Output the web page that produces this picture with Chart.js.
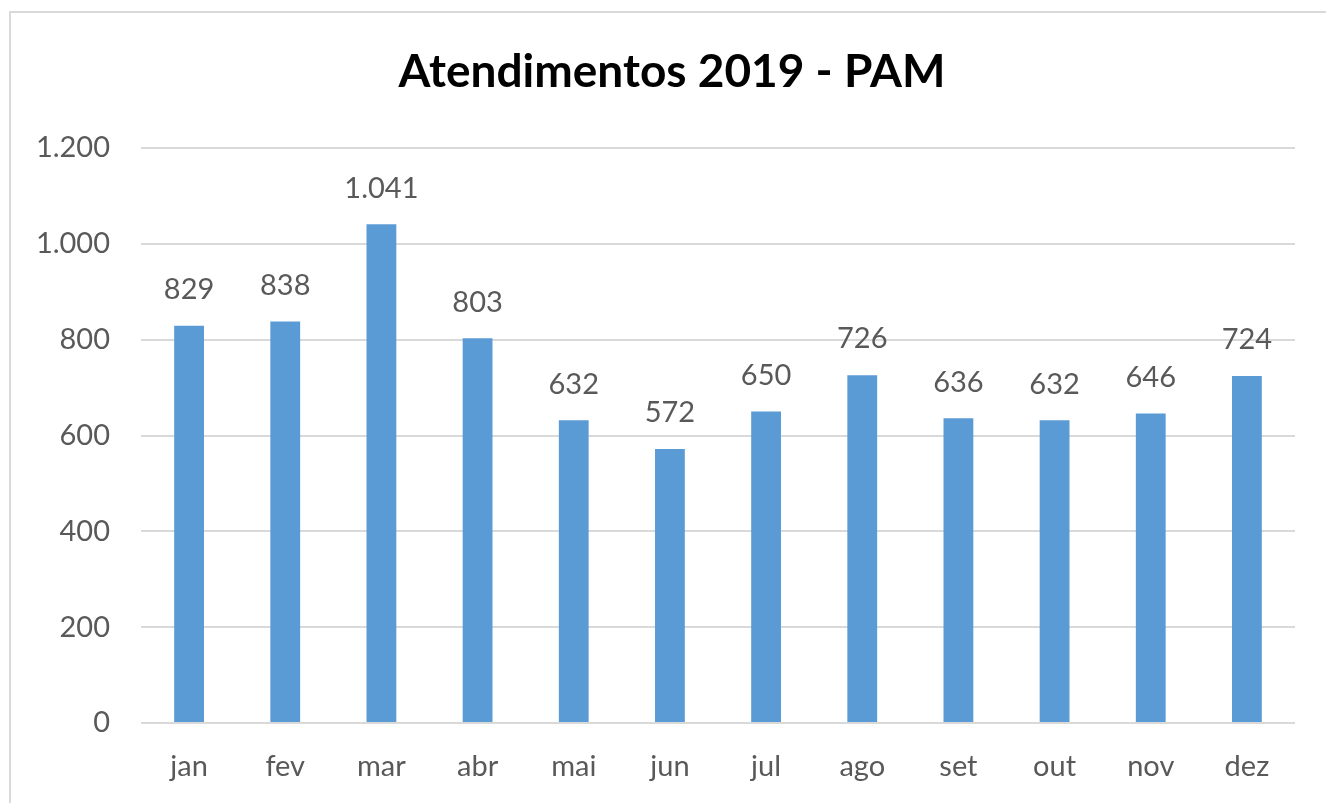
<!DOCTYPE html>
<html>
<head>
<meta charset="utf-8">
<script src="https://cdn.jsdelivr.net/npm/chart.js@4"></script>
<style>
  html, body { margin: 0; padding: 0; background: #fff; }
  #wrap { width: 1326px; height: 803px; position: relative; }
</style>
</head>
<body>
<div id="wrap"><canvas id="pamChart"></canvas></div>
<script>
const months = ['jan', 'fev', 'mar', 'abr', 'mai', 'jun', 'jul', 'ago', 'set', 'out', 'nov', 'dez'];
const atendimentos = [829, 838, 1041, 803, 632, 572, 650, 726, 636, 632, 646, 724];
const yTicks = [0, 200, 400, 600, 800, 1000, 1200];
const chartTitle = 'Atendimentos 2019 - PAM';

const textGray = '#595959';
const fontName = 'Lato, "Open Sans", sans-serif';

// pt-BR style thousands separator
function fmt(v) {
    return String(v).replace(/\B(?=(\d{3})+(?!\d))/g, '.');
}

// white background, the light frame and the title (centred on the frame, not the plot)
const frame = {
    id: 'frame',
    beforeDraw(chart) {
        const c = chart.ctx;
        c.save();
        c.fillStyle = '#fff';
        c.fillRect(0, 0, chart.width, chart.height);
        c.strokeStyle = '#d9d9d9';
        c.lineWidth = 2;
        c.beginPath();
        c.moveTo(10, chart.height);
        c.lineTo(10, 12);
        c.lineTo(chart.width, 12);
        c.stroke();
        c.fillStyle = '#000';
        c.font = 'bold 46px ' + fontName;
        c.textAlign = 'center';
        c.textBaseline = 'middle';
        c.fillText(chartTitle, 672, 72);
        c.restore();
    }
};

const valueLabels = {
    id: 'valueLabels',
    afterDatasetsDraw(chart) {
        const c = chart.ctx;
        const meta = chart.getDatasetMeta(0);
        c.save();
        c.fillStyle = textGray;
        c.font = '29px ' + fontName;
        c.textAlign = 'center';
        c.textBaseline = 'middle';
        meta.data.forEach((bar, i) => {
            c.fillText(fmt(atendimentos[i]), bar.x, bar.y - 36);
        });
        c.restore();
    }
};

const ctx = document.getElementById('pamChart');

new Chart(ctx, {
    type: 'bar',
    data: {
        labels: months,
        datasets: [{
            label: 'Atendimentos',
            data: atendimentos,
            backgroundColor: '#5b9bd5',
            barPercentage: 0.31,
            categoryPercentage: 1
        }]
    },
    options: {
        responsive: true,
        maintainAspectRatio: false,
        animation: false,
        layout: {
            padding: { left: 10, right: 31, top: 148, bottom: 0 }
        },
        plugins: {
            legend: { display: false },
            tooltip: { enabled: false },
            title: { display: false }
        },
        scales: {
            x: {
                afterFit(axis) {
                    axis.height = 80;
                },
                grid: { display: false, drawTicks: false },
                border: { display: false },
                ticks: {
                    color: textGray,
                    font: { family: fontName, size: 29 },
                    padding: 26
                }
            },
            y: {
                min: 0,
                max: 1200,
                afterBuildTicks(axis) {
                    axis.ticks = yTicks.map(v => ({ value: v }));
                },
                afterFit(axis) {
                    axis.width = 131;
                },
                grid: {
                    color: '#d9d9d9',
                    lineWidth: 2,
                    drawTicks: false
                },
                border: { display: false },
                ticks: {
                    color: textGray,
                    font: { family: fontName, size: 29 },
                    padding: 31,
                    callback: v => fmt(v)
                }
            }
        }
    },
    plugins: [frame, valueLabels]
});
</script>
</body>
</html>
